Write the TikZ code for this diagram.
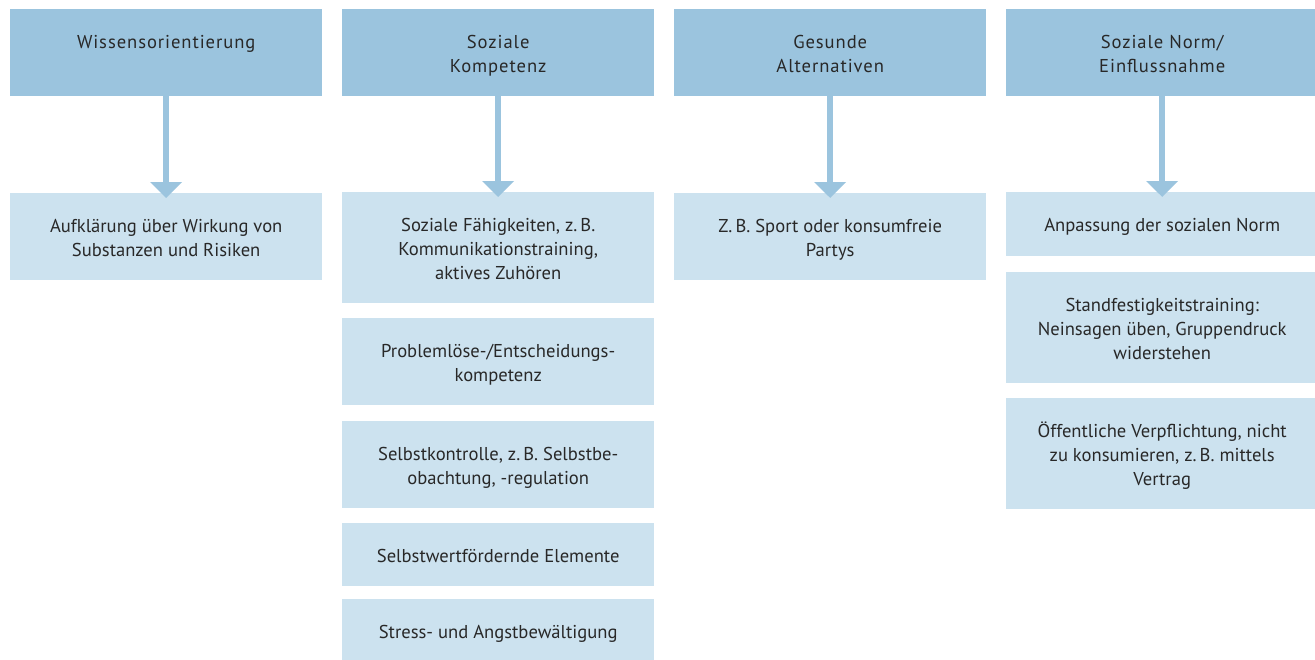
\documentclass[tikz,border=0pt]{standalone}
\usepackage{fontspec}
\setmainfont{PT Sans}
\newfontfamily\hdrfont[LetterSpace=5]{PT Sans}
\usetikzlibrary{arrows.meta}
\definecolor{hdr}{RGB}{155,196,222}
\definecolor{lbox}{RGB}{204,226,239}
\definecolor{txt}{RGB}{40,40,40}
\newcommand\celltext[2]{\parbox[c][#1][t]{304pt}{\centering\rule{0pt}{39pt}#2}}
\begin{document}
\begin{tikzpicture}[x=1pt,y=-1pt,
  hbox/.style={fill=hdr, anchor=north west, inner sep=0pt, minimum width=312pt, text=txt, font=\hdrfont\fontsize{18.6}{24}\selectfont},
  lbx/.style={fill=lbox, anchor=north west, inner sep=0pt, minimum width=312pt, text=txt, font=\fontsize{18.6}{24}\selectfont},
  conn/.style={draw=hdr, line width=5.5pt, -{Triangle[width=31pt,length=16pt]}, shorten >=-5pt}]
\useasboundingbox (0,0) rectangle (1315,659);
% headers
\node[hbox] (h1) at (10,9)   {\celltext{87pt}{Wissensorientierung}};
\node[hbox] (h2) at (342,9)  {\celltext{87pt}{Soziale\\Kompetenz}};
\node[hbox] (h3) at (674,9)  {\celltext{87pt}{Gesunde\\Alternativen}};
\node[hbox] (h4) at (1006,9) {\celltext{87pt}{Soziale Norm/\\Einflussnahme}};
% column 1
\node[lbx] (a1) at (10,193) {\celltext{87pt}{Aufklärung über Wirkung von\\Substanzen und Risiken}};
% column 2
\node[lbx] (b1) at (342,192) {\celltext{111pt}{Soziale Fähigkeiten, z.\,B.\\Kommunikationstraining,\\aktives Zuhören}};
\node[lbx] (b2) at (342,318) {\celltext{87pt}{Problemlöse-/Entscheidungs-\\kompetenz}};
\node[lbx] (b3) at (342,421) {\celltext{87pt}{Selbstkontrolle, z.\,B. Selbstbe-\\obachtung, -regulation}};
\node[lbx] (b4) at (342,523) {\celltext{63pt}{Selbstwertfördernde Elemente}};
\node[lbx] (b5) at (342,599) {\celltext{64pt}{Stress- und Angstbewältigung}};
% column 3
\node[lbx] (c1) at (674,193) {\celltext{87pt}{Z.\,B. Sport oder konsumfreie\\Partys}};
% column 4
\node[lbx] (d1) at (1006,192) {\celltext{64pt}{Anpassung der sozialen Norm}};
\node[lbx] (d2) at (1006,272) {\celltext{111pt}{Standfestigkeitstraining:\\Neinsagen üben, Gruppendruck\\widerstehen}};
\node[lbx] (d3) at (1006,398) {\celltext{111pt}{Öffentliche Verpflichtung, nicht\\zu konsumieren, z.\,B. mittels\\Vertrag}};
% connectors
\draw[conn] (h1.south) -- (a1.north);
\draw[conn] (h2.south) -- (b1.north);
\draw[conn] (h3.south) -- (c1.north);
\draw[conn] (h4.south) -- (d1.north);
\end{tikzpicture}
\end{document}
